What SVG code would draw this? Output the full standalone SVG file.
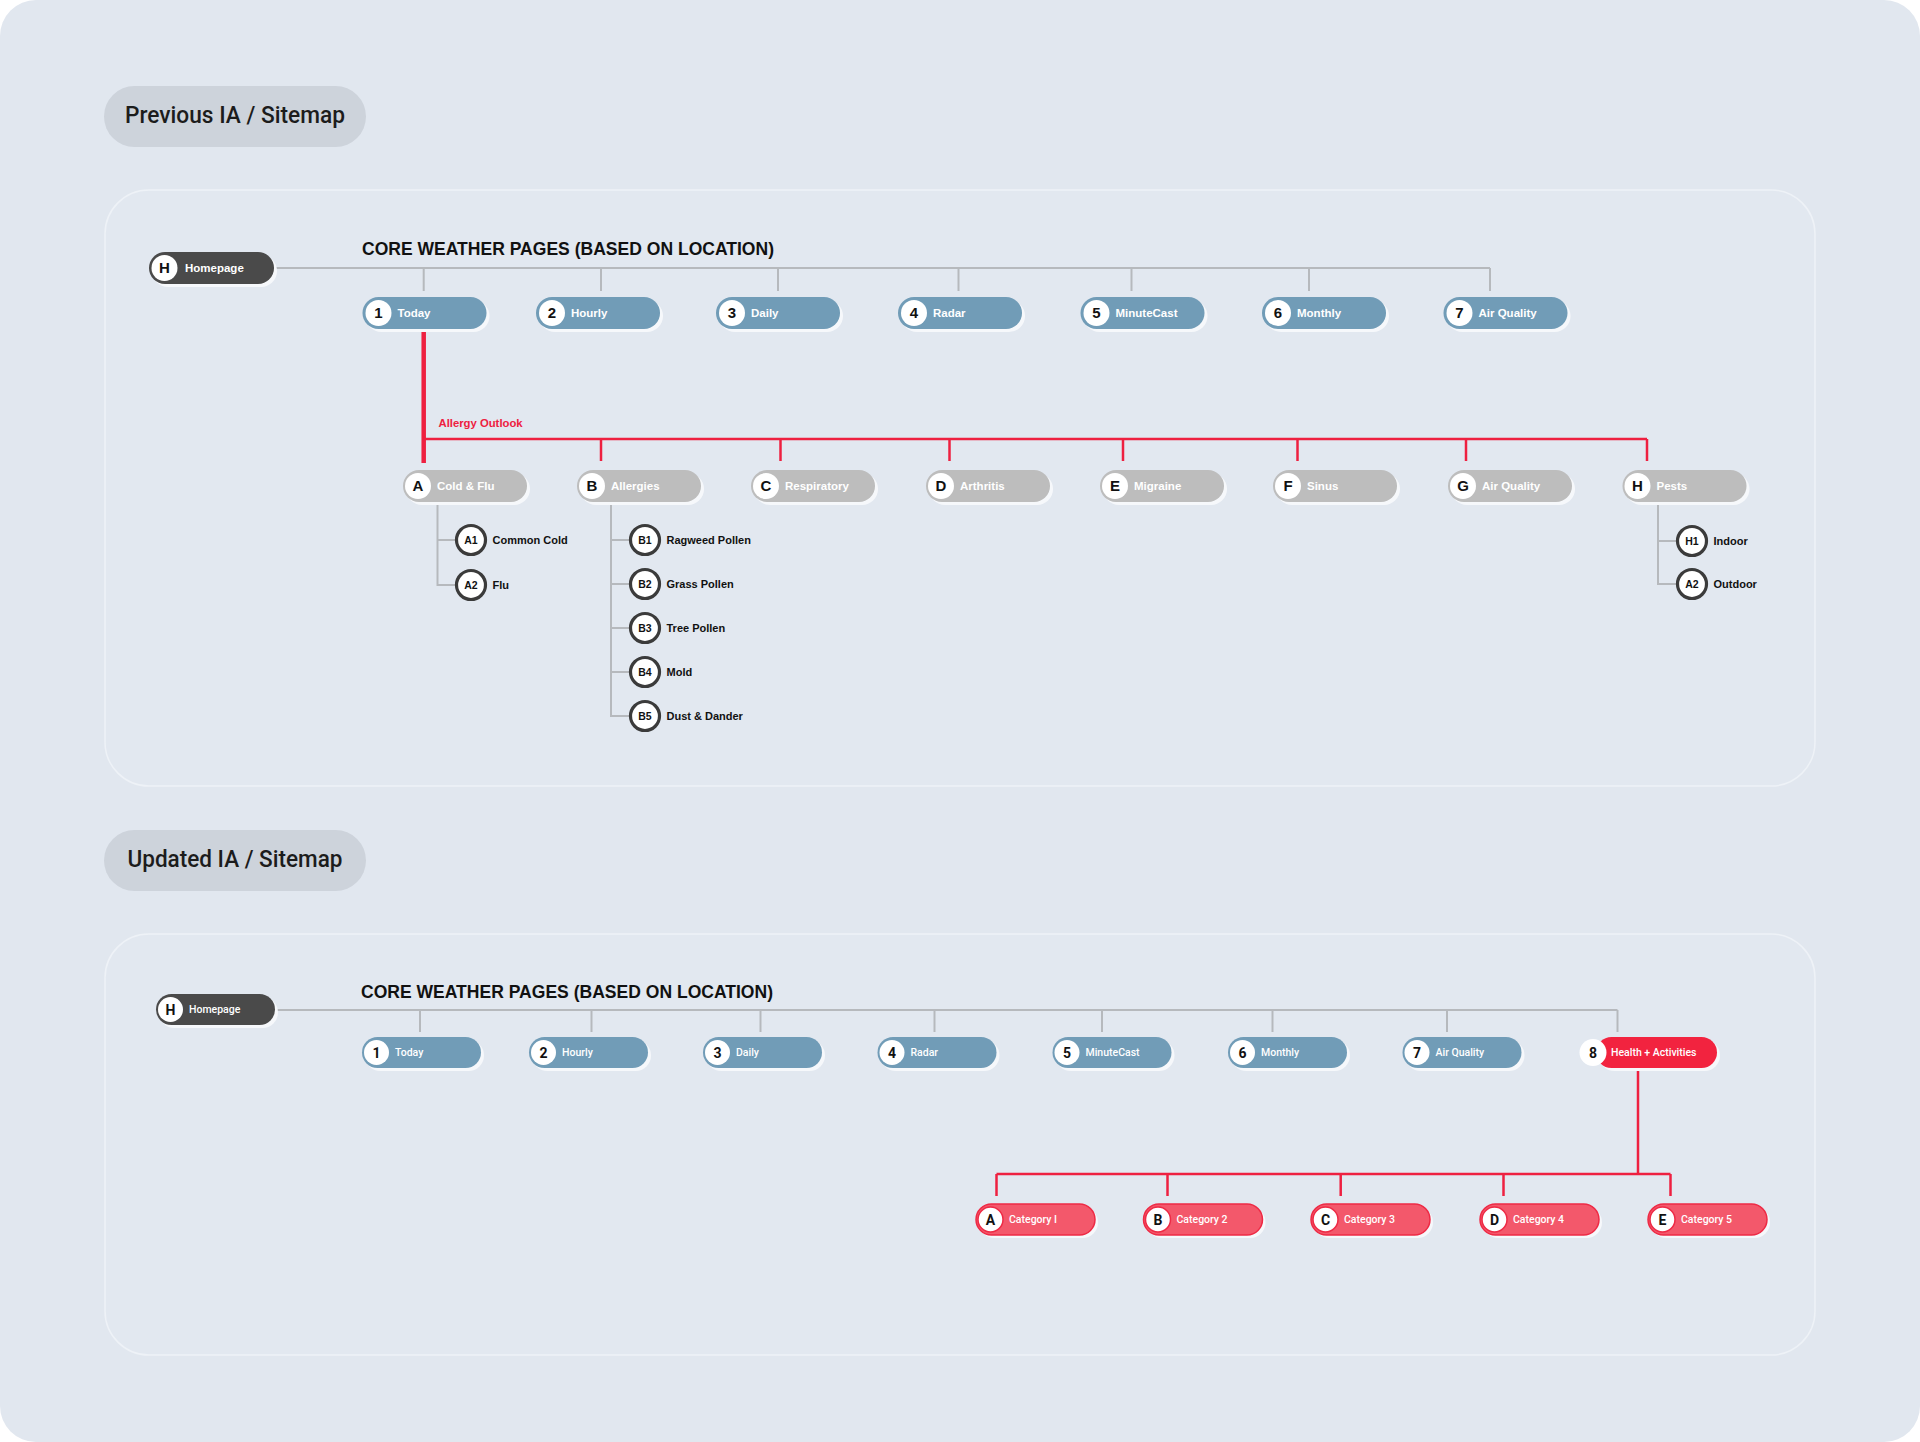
<svg xmlns="http://www.w3.org/2000/svg" width="1920" height="1442" viewBox="0 0 1920 1442">
<style>
.bg{fill:#e1e7ef}
.panel{fill:#e2e8f0;stroke:#eef2f7;stroke-width:1.5}
.hpill{fill:#cdd3db}
.htxt{font-family:Roboto,'Liberation Sans',sans-serif;font-weight:500;font-size:24px;fill:#1c1c1c;text-anchor:middle}
.title{font-family:'Liberation Sans',Arial,sans-serif;font-weight:bold;font-size:18px;fill:#111}
.sh{fill:#f6f8fb}
.dark{fill:#4a4a4a}
.blue{fill:#719cb7}
.grey{fill:#bdbdbd}
.red{fill:#f2233f}
.cat{fill:#f3586b;stroke:#ee2a45;stroke-width:1.5}
.wc{fill:#fff}
.wcr{fill:#fff;stroke:#ee2a45;stroke-width:1.5}
.sub{fill:#fff;stroke:#3b3b3b;stroke-width:3.2}
.n1{font-family:'Liberation Sans',Arial,sans-serif;font-weight:bold;font-size:15px;fill:#111;text-anchor:middle}
.l1{font-family:'Liberation Sans',Arial,sans-serif;font-weight:bold;font-size:11.5px;fill:#fff}
.n2{font-family:Roboto,'Liberation Sans',sans-serif;font-weight:700;font-size:14px;fill:#111;text-anchor:middle}
.l2{font-family:Roboto,'Liberation Sans',sans-serif;font-weight:500;font-size:10.5px;fill:#fff}
.sn{font-family:'Liberation Sans',Arial,sans-serif;font-weight:bold;font-size:10.5px;fill:#111;text-anchor:middle}
.sl{font-family:'Liberation Sans',Arial,sans-serif;font-weight:bold;font-size:11px;fill:#111}
.red-t{font-family:'Liberation Sans',Arial,sans-serif;font-weight:bold;font-size:11.3px;fill:#ee2040}
.gl{stroke:#b6b9bd;stroke-width:2;fill:none}
.rl{stroke:#ee2040;stroke-width:2.5;fill:none}
.rlt{stroke:#ee2040;stroke-width:4.5;fill:none}
</style>
<rect width="1920" height="1442" fill="#ffffff"/>
<rect class="bg" x="0" y="0" width="1920" height="1442" rx="36"/>

<g id="panel-previous">
<rect class="panel" x="105" y="190" width="1710" height="596" rx="44"/>
</g>
<g id="panel-updated">
<rect class="panel" x="105" y="934" width="1710" height="421" rx="44"/>
</g>

<g id="header-previous">
<rect class="hpill" x="104" y="86" width="262" height="61" rx="30.5"/>
<text class="htxt" x="235" y="123" textLength="220" lengthAdjust="spacingAndGlyphs">Previous IA / Sitemap</text>
</g>
<g id="header-updated">
<rect class="hpill" x="104" y="830" width="262" height="61" rx="30.5"/>
<text class="htxt" x="235" y="867" textLength="215" lengthAdjust="spacingAndGlyphs">Updated IA / Sitemap</text>
</g>

<text class="title" x="362" y="255" textLength="412" lengthAdjust="spacingAndGlyphs">CORE WEATHER PAGES (BASED ON LOCATION)</text>
<text class="title" x="361" y="998" textLength="412" lengthAdjust="spacingAndGlyphs">CORE WEATHER PAGES (BASED ON LOCATION)</text>
<text class="red-t" x="438.5" y="427">Allergy Outlook</text>

<g id="connectors">
<!-- previous: core -->
<path class="gl" d="M274 268H1490M423.7 268V291M601 268V291M778 268V291M958.5 268V291M1131.5 268V291M1309 268V291M1490 268V291"/>
<!-- allergy outlook -->
<path class="rlt" d="M423.7 332V463"/>
<path class="rl" d="M423.7 439H1647M601 439V461M780.5 439V461M949.5 439V461M1123 439V461M1297.5 439V461M1466 439V461M1647 439V461"/>
<!-- sub items -->
<path class="gl" d="M437.5 502V585H456M437.5 540H456"/>
<path class="gl" d="M611 502V716H630M611 540H630M611 584H630M611 628H630M611 672H630"/>
<path class="gl" d="M1658 503V584H1677M1658 541H1677"/>
<!-- updated: core -->
<path class="gl" d="M275 1010H1617.5M420 1010V1032M591.5 1010V1032M760.5 1010V1032M934.5 1010V1032M1102 1010V1032M1272.5 1010V1032M1447 1010V1032M1617.5 1010V1032"/>
<!-- health + activities -->
<path class="rl" d="M1638 1071V1174M996.5 1174H1670.5M996.5 1174V1196M1167.5 1174V1196M1340.7 1174V1196M1503.5 1174V1196M1670.5 1174V1196"/>
</g>

<!-- ============ PREVIOUS ============ -->
<g id="prev-homepage" transform="translate(149,252)">
<rect class="sh" x="3" y="3" width="125" height="32" rx="16"/>
<rect class="dark" width="125" height="32" rx="16"/>
<circle class="wc" cx="15.5" cy="16" r="13"/>
<text class="n1" x="15.5" y="21.3">H</text>
<text class="l1" x="36" y="20.2">Homepage</text>
</g>

<g id="prev-1-today" transform="translate(362.5,297)">
<rect class="sh" x="3" y="3" width="124" height="32" rx="16"/><rect class="blue" width="124" height="32" rx="16"/>
<circle class="wc" cx="16" cy="16" r="13"/><text class="n1" x="16" y="21.3">1</text>
<text class="l1" x="35" y="20.2">Today</text>
</g>
<g id="prev-2-hourly" transform="translate(536,297)">
<rect class="sh" x="3" y="3" width="124" height="32" rx="16"/><rect class="blue" width="124" height="32" rx="16"/>
<circle class="wc" cx="16" cy="16" r="13"/><text class="n1" x="16" y="21.3">2</text>
<text class="l1" x="35" y="20.2">Hourly</text>
</g>
<g id="prev-3-daily" transform="translate(716,297)">
<rect class="sh" x="3" y="3" width="124" height="32" rx="16"/><rect class="blue" width="124" height="32" rx="16"/>
<circle class="wc" cx="16" cy="16" r="13"/><text class="n1" x="16" y="21.3">3</text>
<text class="l1" x="35" y="20.2">Daily</text>
</g>
<g id="prev-4-radar" transform="translate(898,297)">
<rect class="sh" x="3" y="3" width="124" height="32" rx="16"/><rect class="blue" width="124" height="32" rx="16"/>
<circle class="wc" cx="16" cy="16" r="13"/><text class="n1" x="16" y="21.3">4</text>
<text class="l1" x="35" y="20.2">Radar</text>
</g>
<g id="prev-5-minutecast" transform="translate(1080.5,297)">
<rect class="sh" x="3" y="3" width="124" height="32" rx="16"/><rect class="blue" width="124" height="32" rx="16"/>
<circle class="wc" cx="16" cy="16" r="13"/><text class="n1" x="16" y="21.3">5</text>
<text class="l1" x="35" y="20.2">MinuteCast</text>
</g>
<g id="prev-6-monthly" transform="translate(1262,297)">
<rect class="sh" x="3" y="3" width="124" height="32" rx="16"/><rect class="blue" width="124" height="32" rx="16"/>
<circle class="wc" cx="16" cy="16" r="13"/><text class="n1" x="16" y="21.3">6</text>
<text class="l1" x="35" y="20.2">Monthly</text>
</g>
<g id="prev-7-airquality" transform="translate(1443.5,297)">
<rect class="sh" x="3" y="3" width="124" height="32" rx="16"/><rect class="blue" width="124" height="32" rx="16"/>
<circle class="wc" cx="16" cy="16" r="13"/><text class="n1" x="16" y="21.3">7</text>
<text class="l1" x="35" y="20.2">Air Quality</text>
</g>

<g id="prev-A-coldflu" transform="translate(403,470)">
<rect class="sh" x="3" y="3" width="124" height="32" rx="16"/><rect class="grey" width="124" height="32" rx="16"/>
<circle class="wc" cx="15" cy="16" r="13"/><text class="n1" x="15" y="21.3">A</text>
<text class="l1" x="34" y="20.2">Cold &amp; Flu</text>
</g>
<g id="prev-B-allergies" transform="translate(577,470)">
<rect class="sh" x="3" y="3" width="124" height="32" rx="16"/><rect class="grey" width="124" height="32" rx="16"/>
<circle class="wc" cx="15" cy="16" r="13"/><text class="n1" x="15" y="21.3">B</text>
<text class="l1" x="34" y="20.2">Allergies</text>
</g>
<g id="prev-C-respiratory" transform="translate(751,470)">
<rect class="sh" x="3" y="3" width="124" height="32" rx="16"/><rect class="grey" width="124" height="32" rx="16"/>
<circle class="wc" cx="15" cy="16" r="13"/><text class="n1" x="15" y="21.3">C</text>
<text class="l1" x="34" y="20.2">Respiratory</text>
</g>
<g id="prev-D-arthritis" transform="translate(926,470)">
<rect class="sh" x="3" y="3" width="124" height="32" rx="16"/><rect class="grey" width="124" height="32" rx="16"/>
<circle class="wc" cx="15" cy="16" r="13"/><text class="n1" x="15" y="21.3">D</text>
<text class="l1" x="34" y="20.2">Arthritis</text>
</g>
<g id="prev-E-migraine" transform="translate(1100,470)">
<rect class="sh" x="3" y="3" width="124" height="32" rx="16"/><rect class="grey" width="124" height="32" rx="16"/>
<circle class="wc" cx="15" cy="16" r="13"/><text class="n1" x="15" y="21.3">E</text>
<text class="l1" x="34" y="20.2">Migraine</text>
</g>
<g id="prev-F-sinus" transform="translate(1273,470)">
<rect class="sh" x="3" y="3" width="124" height="32" rx="16"/><rect class="grey" width="124" height="32" rx="16"/>
<circle class="wc" cx="15" cy="16" r="13"/><text class="n1" x="15" y="21.3">F</text>
<text class="l1" x="34" y="20.2">Sinus</text>
</g>
<g id="prev-G-airquality" transform="translate(1448,470)">
<rect class="sh" x="3" y="3" width="124" height="32" rx="16"/><rect class="grey" width="124" height="32" rx="16"/>
<circle class="wc" cx="15" cy="16" r="13"/><text class="n1" x="15" y="21.3">G</text>
<text class="l1" x="34" y="20.2">Air Quality</text>
</g>
<g id="prev-H-pests" transform="translate(1622.5,470)">
<rect class="sh" x="3" y="3" width="124" height="32" rx="16"/><rect class="grey" width="124" height="32" rx="16"/>
<circle class="wc" cx="15" cy="16" r="13"/><text class="n1" x="15" y="21.3">H</text>
<text class="l1" x="34" y="20.2">Pests</text>
</g>

<g id="prev-A1" transform="translate(471,540)"><circle class="sub" r="14.5"/><text class="sn" y="3.8">A1</text><text class="sl" x="21.5" y="4">Common Cold</text></g>
<g id="prev-A2" transform="translate(471,585)"><circle class="sub" r="14.5"/><text class="sn" y="3.8">A2</text><text class="sl" x="21.5" y="4">Flu</text></g>
<g id="prev-B1" transform="translate(645,540)"><circle class="sub" r="14.5"/><text class="sn" y="3.8">B1</text><text class="sl" x="21.5" y="4">Ragweed Pollen</text></g>
<g id="prev-B2" transform="translate(645,584)"><circle class="sub" r="14.5"/><text class="sn" y="3.8">B2</text><text class="sl" x="21.5" y="4">Grass Pollen</text></g>
<g id="prev-B3" transform="translate(645,628)"><circle class="sub" r="14.5"/><text class="sn" y="3.8">B3</text><text class="sl" x="21.5" y="4">Tree Pollen</text></g>
<g id="prev-B4" transform="translate(645,672)"><circle class="sub" r="14.5"/><text class="sn" y="3.8">B4</text><text class="sl" x="21.5" y="4">Mold</text></g>
<g id="prev-B5" transform="translate(645,716)"><circle class="sub" r="14.5"/><text class="sn" y="3.8">B5</text><text class="sl" x="21.5" y="4">Dust &amp; Dander</text></g>
<g id="prev-H1" transform="translate(1692,541)"><circle class="sub" r="14.5"/><text class="sn" y="3.8">H1</text><text class="sl" x="21.5" y="4">Indoor</text></g>
<g id="prev-H2" transform="translate(1692,584)"><circle class="sub" r="14.5"/><text class="sn" y="3.8">A2</text><text class="sl" x="21.5" y="4">Outdoor</text></g>

<!-- ============ UPDATED ============ -->
<g id="upd-homepage" transform="translate(156,994)">
<rect class="sh" x="3" y="3" width="119" height="31" rx="15.5"/>
<rect class="dark" width="119" height="31" rx="15.5"/>
<circle class="wc" cx="14.5" cy="15.5" r="12.5"/>
<text class="n2" x="14.5" y="20.5">H</text>
<text class="l2" x="33" y="19.3">Homepage</text>
</g>

<g id="upd-1-today" transform="translate(362,1037)">
<rect class="sh" x="3" y="3" width="119" height="31" rx="15.5"/><rect class="blue" width="119" height="31" rx="15.5"/>
<circle class="wc" cx="14.5" cy="15.5" r="12.5"/><text class="n2" x="14.5" y="20.5">1</text>
<text class="l2" x="33" y="19.3">Today</text>
</g>
<g id="upd-2-hourly" transform="translate(529,1037)">
<rect class="sh" x="3" y="3" width="119" height="31" rx="15.5"/><rect class="blue" width="119" height="31" rx="15.5"/>
<circle class="wc" cx="14.5" cy="15.5" r="12.5"/><text class="n2" x="14.5" y="20.5">2</text>
<text class="l2" x="33" y="19.3">Hourly</text>
</g>
<g id="upd-3-daily" transform="translate(703,1037)">
<rect class="sh" x="3" y="3" width="119" height="31" rx="15.5"/><rect class="blue" width="119" height="31" rx="15.5"/>
<circle class="wc" cx="14.5" cy="15.5" r="12.5"/><text class="n2" x="14.5" y="20.5">3</text>
<text class="l2" x="33" y="19.3">Daily</text>
</g>
<g id="upd-4-radar" transform="translate(877.5,1037)">
<rect class="sh" x="3" y="3" width="119" height="31" rx="15.5"/><rect class="blue" width="119" height="31" rx="15.5"/>
<circle class="wc" cx="14.5" cy="15.5" r="12.5"/><text class="n2" x="14.5" y="20.5">4</text>
<text class="l2" x="33" y="19.3">Radar</text>
</g>
<g id="upd-5-minutecast" transform="translate(1052.5,1037)">
<rect class="sh" x="3" y="3" width="119" height="31" rx="15.5"/><rect class="blue" width="119" height="31" rx="15.5"/>
<circle class="wc" cx="14.5" cy="15.5" r="12.5"/><text class="n2" x="14.5" y="20.5">5</text>
<text class="l2" x="33" y="19.3">MinuteCast</text>
</g>
<g id="upd-6-monthly" transform="translate(1228,1037)">
<rect class="sh" x="3" y="3" width="119" height="31" rx="15.5"/><rect class="blue" width="119" height="31" rx="15.5"/>
<circle class="wc" cx="14.5" cy="15.5" r="12.5"/><text class="n2" x="14.5" y="20.5">6</text>
<text class="l2" x="33" y="19.3">Monthly</text>
</g>
<g id="upd-7-airquality" transform="translate(1402.5,1037)">
<rect class="sh" x="3" y="3" width="119" height="31" rx="15.5"/><rect class="blue" width="119" height="31" rx="15.5"/>
<circle class="wc" cx="14.5" cy="15.5" r="12.5"/><text class="n2" x="14.5" y="20.5">7</text>
<text class="l2" x="33" y="19.3">Air Quality</text>
</g>
<g id="upd-8-health" transform="translate(1596,1037)">
<rect class="sh" x="3" y="3" width="121" height="31" rx="15.5"/><rect class="red" width="121" height="31" rx="15.5"/>
<circle class="wc" cx="-3" cy="15.5" r="13.5"/><text class="n2" x="-3" y="20.5">8</text>
<text class="l2" x="15" y="19.3">Health + Activities</text>
</g>

<g id="upd-A-cat1" transform="translate(976,1204)">
<rect class="sh" x="3" y="3" width="119" height="31" rx="15.5"/><rect class="cat" width="119" height="31" rx="15.5"/>
<circle class="wcr" cx="14.5" cy="15.5" r="12.5"/><text class="n2" x="14.5" y="20.5">A</text>
<text class="l2" x="33" y="19.3">Category I</text>
</g>
<g id="upd-B-cat2" transform="translate(1143.5,1204)">
<rect class="sh" x="3" y="3" width="119" height="31" rx="15.5"/><rect class="cat" width="119" height="31" rx="15.5"/>
<circle class="wcr" cx="14.5" cy="15.5" r="12.5"/><text class="n2" x="14.5" y="20.5">B</text>
<text class="l2" x="33" y="19.3">Category 2</text>
</g>
<g id="upd-C-cat3" transform="translate(1311,1204)">
<rect class="sh" x="3" y="3" width="119" height="31" rx="15.5"/><rect class="cat" width="119" height="31" rx="15.5"/>
<circle class="wcr" cx="14.5" cy="15.5" r="12.5"/><text class="n2" x="14.5" y="20.5">C</text>
<text class="l2" x="33" y="19.3">Category 3</text>
</g>
<g id="upd-D-cat4" transform="translate(1480,1204)">
<rect class="sh" x="3" y="3" width="119" height="31" rx="15.5"/><rect class="cat" width="119" height="31" rx="15.5"/>
<circle class="wcr" cx="14.5" cy="15.5" r="12.5"/><text class="n2" x="14.5" y="20.5">D</text>
<text class="l2" x="33" y="19.3">Category 4</text>
</g>
<g id="upd-E-cat5" transform="translate(1648,1204)">
<rect class="sh" x="3" y="3" width="119" height="31" rx="15.5"/><rect class="cat" width="119" height="31" rx="15.5"/>
<circle class="wcr" cx="14.5" cy="15.5" r="12.5"/><text class="n2" x="14.5" y="20.5">E</text>
<text class="l2" x="33" y="19.3">Category 5</text>
</g>
</svg>
